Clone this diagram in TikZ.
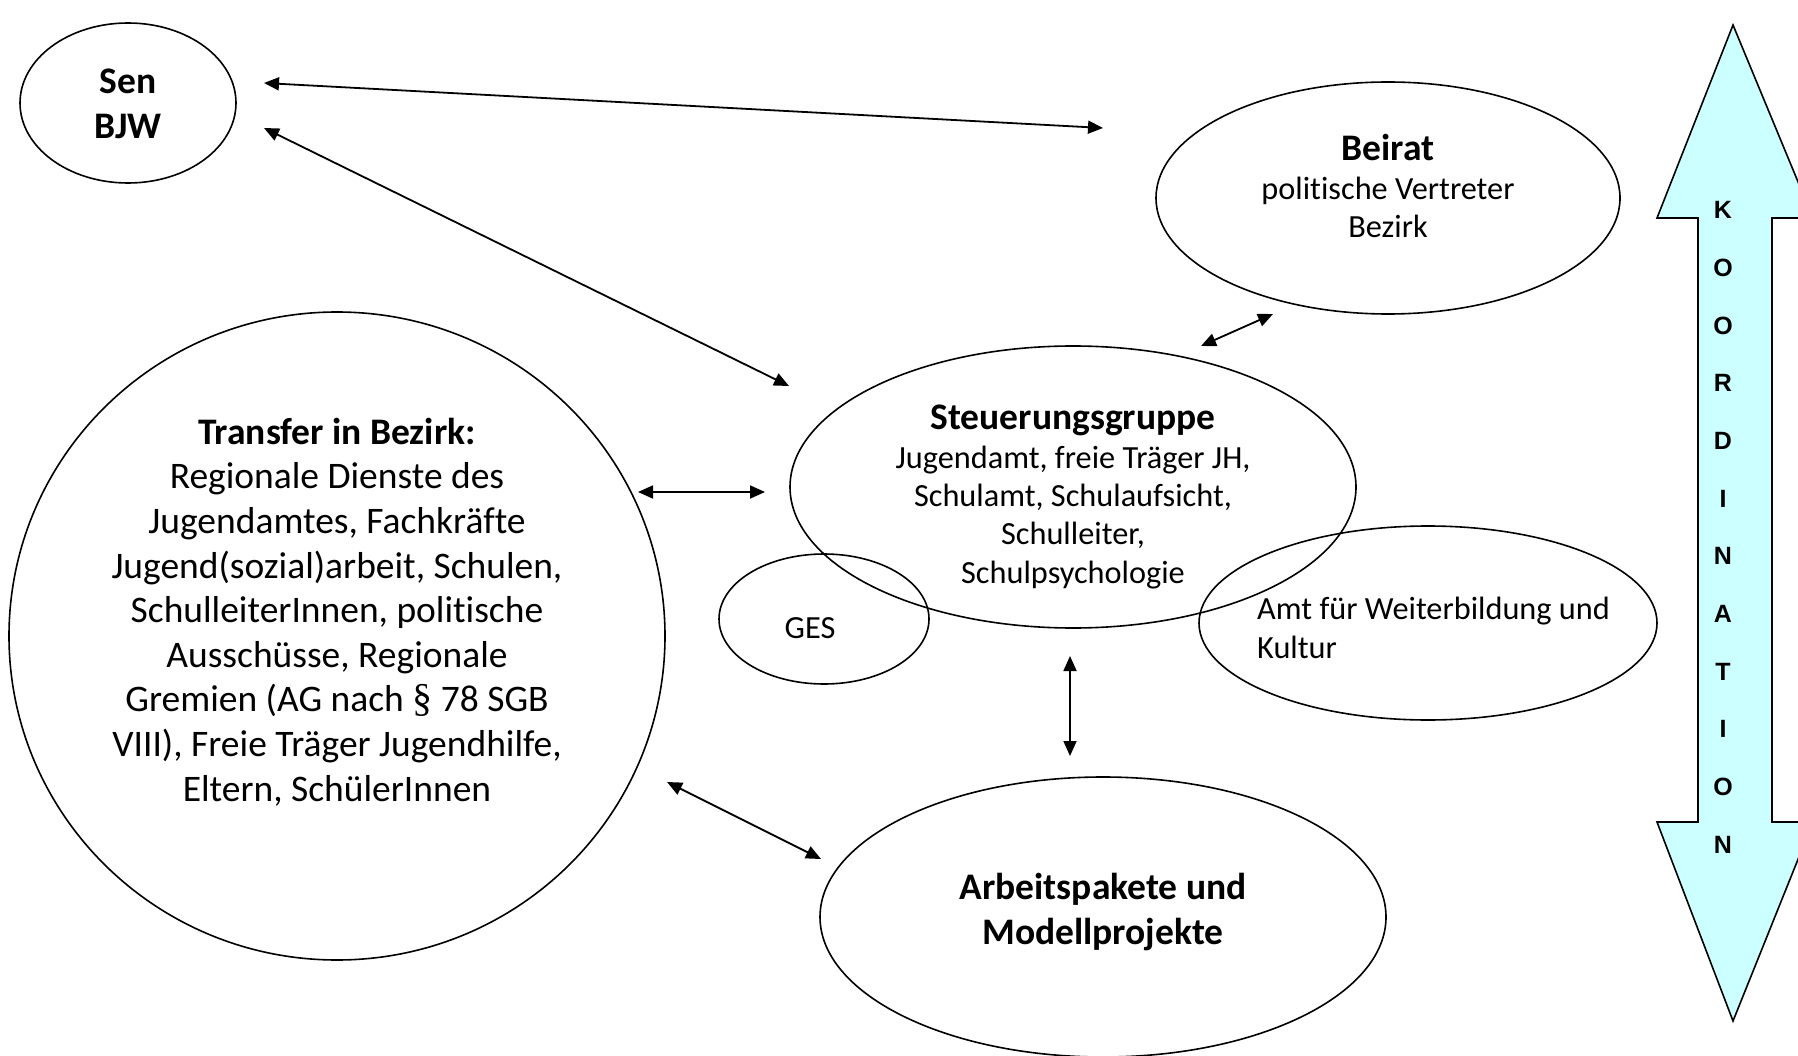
\documentclass[tikz,border=0pt]{standalone}
\usepackage{fontspec}
\setmainfont{Carlito}[Ligatures=NoCommon]
\newfontfamily\koordfont{Liberation Sans}
\newfontfamily\parafont{Liberation Serif}
\usetikzlibrary{shapes.geometric,arrows.meta}
\definecolor{koordcyan}{HTML}{CCFFFF}
\tikzset{
  ell/.style={draw, line width=1.6pt, ellipse, inner sep=0pt},
  dblarrow/.style={line width=1.8pt, {Triangle[length=15pt,width=13pt]}-{Triangle[length=15pt,width=13pt]}},
  bigtxt/.style={font=\fontsize{37.5}{44.6}\selectfont, align=center, inner sep=0pt},
  midtxt/.style={font=\fontsize{32.3}{38.4}\selectfont, align=center, inner sep=0pt},
  koordletter/.style={font=\koordfont\bfseries\fontsize{25}{25}\selectfont, inner sep=0pt}
}
\newcommand{\ttl}[1]{{\bfseries\fontsize{37.5}{40}\selectfont #1}}
\begin{document}
\begin{tikzpicture}[x={(1pt,0)}, y={(0,-1pt)}]
\useasboundingbox (0,0) rectangle (1798,1056);
% ellipses
\node[ell, minimum width=216, minimum height=160] (sen) at (128,103) {};
\node[ell, minimum width=464, minimum height=232] (beirat) at (1388,198) {};
\node[ell, minimum width=566, minimum height=282] (steuer) at (1073,487) {};
\node[ell, minimum width=210, minimum height=130] (ges) at (824,619) {};
\node[ell, minimum width=458, minimum height=194] (amt) at (1428,623) {};
\node[ell, minimum width=566, minimum height=280] (arbeit) at (1103,917) {};
\node[ell, minimum width=656, minimum height=648] (transfer) at (337,636) {};
% texts
\node[bigtxt] (senT) at (128,104) {\bfseries Sen\\\bfseries BJW};
\node[midtxt] (beiratT) at (1388,186) {\ttl{Beirat}\\politische Vertreter\\Bezirk};
\node[midtxt] (steuerT) at (1073,497) {\ttl{Steuerungsgruppe}\\Jugendamt, freie Träger JH,\\Schulamt, Schulaufsicht,\\Schulleiter,\\Schulpsychologie};
\node[midtxt] (gesT) at (810,628) {GES};
\node[midtxt, align=left, anchor=west] (amtT) at (1257,628) {Amt für Weiterbildung und\\Kultur};
\node[bigtxt] (arbeitT) at (1103,912) {\bfseries Arbeitspakete und\\\bfseries Modellprojekte};
\node[bigtxt] (transferT) at (337,612) {\bfseries Transfer in Bezirk:\\Regionale Dienste des\\Jugendamtes, Fachkräfte\\Jugend(sozial)arbeit, Schulen,\\SchulleiterInnen, politische\\Ausschüsse, Regionale\\Gremien (AG nach {\parafont\fontsize{40}{44}\selectfont §} 78 SGB\\VIII), Freie Träger Jugendhilfe,\\Eltern, SchülerInnen};
% arrow end coordinates
\coordinate (a1s) at (264,83);   \coordinate (a1e) at (1103,128);
\coordinate (a2s) at (264,128);  \coordinate (a2e) at (789,386);
\coordinate (a3s) at (1201,346); \coordinate (a3e) at (1273,314);
\coordinate (a4s) at (638,492);  \coordinate (a4e) at (765,492);
\coordinate (a5s) at (1070,656); \coordinate (a5e) at (1070,756);
\coordinate (a6s) at (667,782);  \coordinate (a6e) at (821,859);
\draw[dblarrow] (a1s) -- (a1e);
\draw[dblarrow] (a2s) -- (a2e);
\draw[dblarrow] (a3s) -- (a3e);
\draw[dblarrow] (a4s) -- (a4e);
\draw[dblarrow] (a5s) -- (a5e);
\draw[dblarrow] (a6s) -- (a6e);
% Koordination arrow
\draw[line width=1.6pt, fill=koordcyan, line join=miter]
  (1733,25) -- (1813,218) -- (1772,218) -- (1772,822) -- (1813,822) -- (1733,1021)
  -- (1657,822) -- (1698,822) -- (1698,218) -- (1657,218) -- cycle;
\foreach \l [count=\i from 0] in {K,O,O,R,D,I,N,A,T,I,O,N}
  \node[koordletter] (k\i) at (1723,{210+57.7*\i}) {\l};
\end{tikzpicture}
\end{document}
